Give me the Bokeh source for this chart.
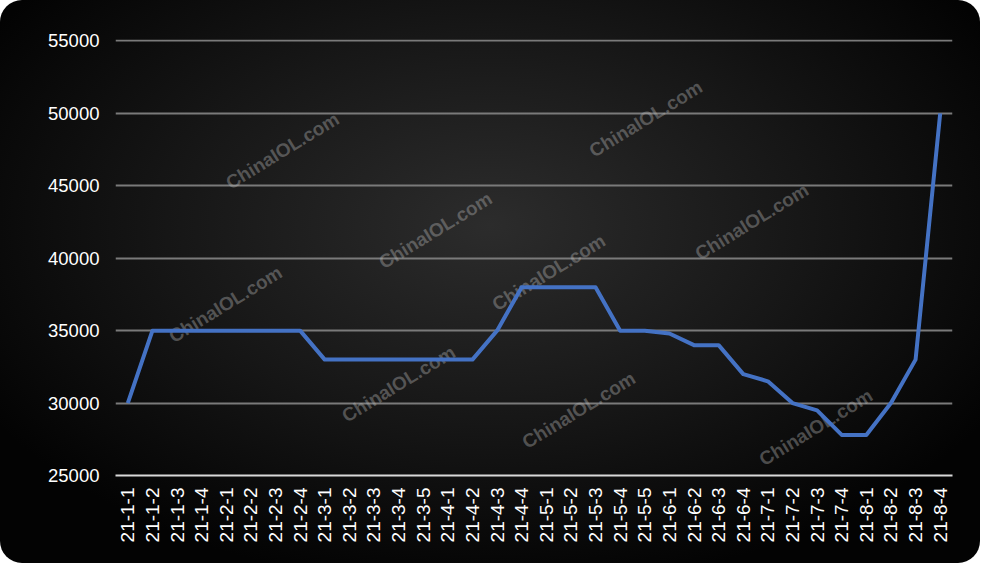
from bokeh.plotting import figure
from bokeh.models import ColumnDataSource, Range1d, FixedTicker
from bokeh.embed import file_html
from bokeh.resources import INLINE
from bokeh.core.properties import value

dates = [
    "21-1-1", "21-1-2", "21-1-3", "21-1-4",
    "21-2-1", "21-2-2", "21-2-3", "21-2-4",
    "21-3-1", "21-3-2", "21-3-3", "21-3-4", "21-3-5",
    "21-4-1", "21-4-2", "21-4-3", "21-4-4",
    "21-5-1", "21-5-2", "21-5-3", "21-5-4", "21-5-5",
    "21-6-1", "21-6-2", "21-6-3", "21-6-4",
    "21-7-1", "21-7-2", "21-7-3", "21-7-4",
    "21-8-1", "21-8-2", "21-8-3", "21-8-4",
]
prices = [
    30000, 35000, 35000, 35000,
    35000, 35000, 35000, 35000,
    33000, 33000, 33000, 33000, 33000,
    33000, 33000, 35000, 38000,
    38000, 38000, 38000, 35000, 35000,
    34800, 34000, 34000, 32000,
    31500, 30000, 29500, 27800,
    27800, 30000, 33000, 50000,
]
y_ticks = [25000, 30000, 35000, 40000, 45000, 50000, 55000]

# watermark text, start points in (category slot, price) units
wm_text = "ChinaIOL.com"
wm_x = [4.55, 2.24, 10.77, 15.37, 9.27, 16.59, 19.31, 23.62, 26.22]
wm_y = [45100, 34500, 39600, 36700, 29000, 27200, 47300, 40200, 26000]

FONT = "Liberation Sans"

p = figure(
    width=980, height=563,
    x_range=dates,
    y_range=Range1d(25000, 55100),
    output_backend="svg",
    toolbar_location=None,
    min_border_left=115, min_border_right=28,
    min_border_top=39, min_border_bottom=88,
)
p.outline_line_color = None
p.background_fill_alpha = 0
p.border_fill_alpha = 0
p.styles = {
    "background": "radial-gradient(ellipse 60% 65% at 50% 40%, #2c2c2c 0%, #161616 55%, #030303 100%)",
    "border-radius": "22px",
}

wm = ColumnDataSource(dict(x=wm_x, y=wm_y, t=[wm_text] * len(wm_x)))
p.text(x="x", y="y", text="t", source=wm, angle=0.55,
       text_font=value(FONT), text_font_style="bold",
       text_font_size="19px", text_color="#b8b8b8", text_alpha=0.38,
       text_baseline="alphabetic", text_align="left")

src = ColumnDataSource(dict(date=dates, price=prices))
p.line(x="date", y="price", source=src, line_color="#4472C4",
       line_width=4, line_join="round")

p.xgrid.grid_line_color = None
p.ygrid.ticker = FixedTicker(ticks=y_ticks)
p.ygrid.grid_line_color = "#7a7a7a"
p.ygrid.grid_line_width = 2

p.yaxis.ticker = FixedTicker(ticks=y_ticks)
p.yaxis.axis_line_color = None
p.yaxis.major_tick_line_color = None
p.yaxis.minor_tick_line_color = None
p.yaxis.major_tick_out = 0
p.yaxis.major_label_text_color = "white"
p.yaxis.major_label_text_font = FONT
p.yaxis.major_label_text_font_size = "18.5px"
p.yaxis.major_label_standoff = 16

p.xaxis.axis_line_color = "#d9d9d9"
p.xaxis.axis_line_width = 2
p.xaxis.major_tick_line_color = None
p.xaxis.minor_tick_line_color = None
p.xaxis.major_tick_out = 0
p.xaxis.major_label_orientation = 1.5708
p.xaxis.major_label_text_color = "white"
p.xaxis.major_label_text_font = FONT
p.xaxis.major_label_text_font_size = "19px"
p.xaxis.major_label_standoff = 12

open("out.html", "w").write(file_html(p, INLINE))
